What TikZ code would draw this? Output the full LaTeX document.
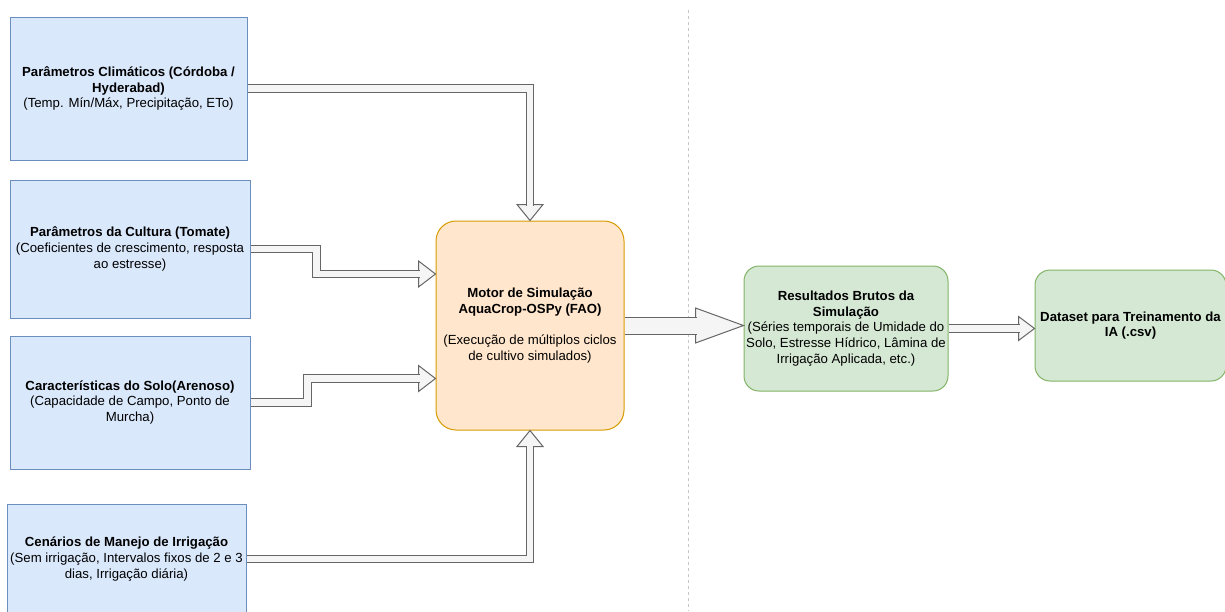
\documentclass[tikz,border=0pt]{standalone}
\usepackage{fontspec}
\setmainfont{Liberation Sans}
\usepackage{xcolor}
\usetikzlibrary{positioning}

\definecolor{azulfundo}{HTML}{DAE8FC}
\definecolor{azulborda}{HTML}{6C8EBF}
\definecolor{laranjafundo}{HTML}{FFE6CC}
\definecolor{laranjaborda}{HTML}{D79B00}
\definecolor{verdefundo}{HTML}{D5E8D4}
\definecolor{verdeborda}{HTML}{82B366}
\definecolor{setafundo}{HTML}{F5F5F5}
\definecolor{setaborda}{HTML}{666666}

\begin{document}
\begin{tikzpicture}[
    x=1pt, y=-1pt,
    every node/.style = {align=center, font=\fontsize{13.2pt}{15.7pt}\selectfont},
    entrada/.style = {draw=azulborda, fill=azulfundo, line width=1pt, inner sep=1pt},
    motorbox/.style = {draw=laranjaborda, fill=laranjafundo, line width=1pt, rounded corners=20pt,
                       minimum width=188pt, minimum height=209pt},
    saida/.style = {draw=verdeborda, fill=verdefundo, line width=1pt, rounded corners=15pt, inner sep=1pt},
    haste/.style = {draw=setaborda, line width=1pt, double=setafundo, double distance=6.5pt},
    hastelarga/.style = {haste, double distance=16pt},
    ponta/.style = {draw=setaborda, fill=setafundo, line width=1pt, line join=miter},
    divisoria/.style = {draw=black!22, line width=0.8pt, dash pattern=on 3pt off 3pt},
  ]
    \useasboundingbox (0,0) rectangle (1225,611);

    % entradas
    \node[entrada, minimum width=237pt, minimum height=143pt] (clima) at (128.5,88.5)
        {\textbf{Parâmetros Climáticos (Córdoba /}\\ \textbf{Hyderabad)}\\ (Temp. Mín/Máx, Precipitação, ETo)};
    \node[entrada, minimum width=240pt, minimum height=138pt] (cultura) at (130,249)
        {\textbf{Parâmetros da Cultura (Tomate)}\\ (Coeficientes de crescimento, resposta\\ ao estresse)};
    \node[entrada, minimum width=240pt, minimum height=133pt] (solo) at (130,402.5)
        {\textbf{Características do Solo(Arenoso)}\\ (Capacidade de Campo, Ponto de\\ Murcha)};
    \node[entrada, minimum width=239pt, minimum height=110pt] (manejo) at (126.5,559)
        {\textbf{Cenários de Manejo de Irrigação}\\ (Sem irrigação, Intervalos fixos de 2 e 3\\ dias, Irrigação diária)};

    % motor e saidas
    \node[motorbox] (motor) at (530,325.5)
        {\textbf{Motor de Simulação}\\ \textbf{AquaCrop-OSPy (FAO)}\\ ~\\ (Execução de múltiplos ciclos\\ de cultivo simulados)};
    \node[saida, minimum width=204pt, minimum height=125pt, right=119pt of motor, yshift=-3pt] (resultados)
        {\textbf{Resultados Brutos da}\\ \textbf{Simulação}\\ (Séries temporais de Umidade do\\ Solo, Estresse Hídrico, Lâmina de\\ Irrigação Aplicada, etc.)};
    \node[saida, minimum width=191pt, minimum height=111pt, right=86pt of resultados, yshift=3pt] (dataset)
        {\textbf{Dataset para Treinamento da}\\ \textbf{IA (.csv)}};

    \draw[divisoria] (688,10) -- (688,611);

    % setas
    \draw[ponta] (motor.north) -- ++(-13,-16) -- ++(26,0) -- cycle;
    \draw[haste] (clima.east) -| ([yshift=15pt]motor.north);

    \draw[ponta] ([yshift=51.5pt]motor.west) -- ++(-17,-13) -- ++(0,26) -- cycle;
    \draw[haste] (cultura.east) -- ++(66,0) |- ([xshift=-16pt, yshift=51.5pt]motor.west);

    \draw[ponta] ([yshift=-53pt]motor.west) -- ++(-17,-13) -- ++(0,26) -- cycle;
    \draw[haste] (solo.east) -- ++(57,0) |- ([xshift=-16pt, yshift=-53pt]motor.west);

    \draw[ponta] (motor.south) -- ++(-13,16) -- ++(26,0) -- cycle;
    \draw[haste] (manejo.east) -| ([yshift=-15pt]motor.south);

    \draw[ponta] (motor.east -| resultados.west) -- ++(-48,-17.5) -- ++(0,35) -- cycle;
    \draw[hastelarga] (motor.east) -- ([xshift=-47pt]motor.east -| resultados.west);

    \draw[ponta] (resultados.east -| dataset.west) -- ++(-16,-12) -- ++(0,24) -- cycle;
    \draw[haste] (resultados.east) -- ([xshift=-15pt]resultados.east -| dataset.west);
\end{tikzpicture}
\end{document}
